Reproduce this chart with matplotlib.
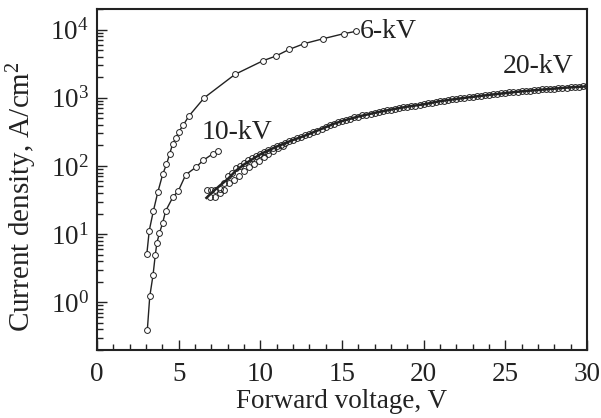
import matplotlib
matplotlib.use("Agg")
import matplotlib.pyplot as plt
from matplotlib.ticker import MultipleLocator, LogLocator, NullFormatter

plt.rcParams['font.family'] = ['Liberation Serif', 'DejaVu Serif']
plt.rcParams['mathtext.fontset'] = 'custom'
plt.rcParams['mathtext.rm'] = 'Liberation Serif'
plt.rcParams['mathtext.it'] = 'Liberation Serif:italic'

# 6-kV
v6 = [3.05, 3.2, 3.45, 3.72, 4.02, 4.25, 4.45, 4.63, 4.84, 5.0, 5.29, 5.63, 6.57,
      8.45, 10.18, 10.94, 11.76, 12.68, 13.82, 15.12, 15.86]
j6 = [5.1, 11.3, 21.8, 41, 75, 105, 150, 210, 260, 315, 400, 540, 1000,
      2200, 3500, 4070, 5100, 6200, 7300, 8700, 9400]

# 10-kV
v10 = [3.08, 3.23, 3.43, 3.57, 3.67, 3.82, 4.02, 4.2, 4.65, 4.98, 5.43, 6.06, 6.51, 7.08, 7.43]
j10 = [0.39, 1.22, 2.5, 5.0, 7.5, 10.3, 14.6, 21.8, 35, 43, 74, 96, 121, 150, 166]

# 20-kV measured points
v20 = [6.75, 7.0, 7.25, 7.5, 7.75, 8.0, 8.25, 8.5, 8.75, 9.0, 9.25, 9.5, 9.75,
       10.0, 10.25, 10.5, 10.75, 11.0, 11.25, 11.5, 11.75, 12.0, 12.25, 12.5, 12.75,
       13.0, 13.25, 13.5, 13.75, 14.0, 14.25, 14.5, 14.75, 15.0, 15.25, 15.5, 15.75,
       16.0, 16.25, 16.5, 16.75, 17.0, 17.25, 17.5, 17.75, 18.0, 18.25, 18.5, 18.75,
       19.0, 19.25, 19.5, 19.75, 20.0, 20.25, 20.5, 20.75, 21.0, 21.25, 21.5, 21.75,
       22.0, 22.25, 22.5, 22.75, 23.0, 23.25, 23.5, 23.75, 24.0, 24.25, 24.5, 24.75,
       25.0, 25.25, 25.5, 25.75, 26.0, 26.25, 26.5, 26.75, 27.0, 27.25, 27.5, 27.75,
       28.0, 28.25, 28.5, 28.75, 29.0, 29.25, 29.5, 29.75, 30.0]
j20 = [44, 45, 45, 46, 57, 70, 78, 92, 100, 110, 122, 130, 142,
       152, 162, 172, 183, 194, 206, 214, 229, 238, 254, 263, 282,
       292, 314, 328, 352, 368, 394, 412, 437, 452, 478, 490, 515,
       527, 551, 562, 586, 597, 621, 632, 655, 667, 691, 702, 725,
       737, 758, 767, 788, 797, 826, 842, 871, 886, 910, 921, 946,
       956, 981, 991, 1016, 1026, 1052, 1061, 1086, 1096, 1122, 1131, 1157,
       1166, 1193, 1201, 1227, 1236, 1260, 1266, 1290, 1296, 1320, 1326, 1350,
       1356, 1380, 1386, 1410, 1416, 1437, 1441, 1462, 1470]
# 20-kV additional scattered points (low-voltage region)
v20b = [6.9, 7.2, 7.5, 7.8, 8.1, 8.4, 8.7, 9.0, 9.3, 9.6, 9.9, 10.2, 10.5, 10.8, 11.1, 11.4]
j20b = [35, 35, 40, 45, 56, 62, 72, 84, 96, 108, 120, 135, 150, 166, 181, 198]
# 20-kV fitted line
v20f = [6.7, 7.0, 7.5, 8.0, 8.5, 9.0, 9.5, 10.0, 10.5, 11.0, 11.5, 12.0, 12.5, 13.0,
        13.5, 14.0, 14.5, 15.0, 16.0, 17.0, 18.0, 19.0, 20.0, 21.0, 22.0, 23.0,
        24.0, 25.0, 26.0, 27.0, 28.0, 29.0, 30.0]
j20f = [34, 40, 51, 64, 85, 105, 125, 148, 170, 192, 215, 240, 265, 295,
        330, 370, 415, 455, 530, 600, 670, 740, 800, 890, 960, 1030,
        1100, 1170, 1240, 1300, 1360, 1420, 1470]

fig = plt.figure(figsize=(6.01, 4.18), dpi=100)
ax = fig.add_axes([0.1614, 0.1627, 0.8153, 0.8158])

ink = '#222222'
mk = dict(marker='o', markersize=4.2, markeredgewidth=0.7, markeredgecolor=ink)
ax.plot(v6, j6, color=ink, lw=1.0, markerfacecolor='white', **mk)
ax.plot(v10, j10, color=ink, lw=1.0, markerfacecolor='white', **mk)
ax.plot(v20, j20, ls='none', markerfacecolor='none', **mk)
ax.plot(v20b, j20b, ls='none', markerfacecolor='none', **mk)
ax.plot(v20f, j20f, color=ink, lw=1.8)

ax.set_yscale('log')
ax.set_xlim(0, 30)
ax.set_ylim(0.2, 2e4)
ax.xaxis.set_major_locator(MultipleLocator(5))
ax.xaxis.set_minor_locator(MultipleLocator(1))
ax.yaxis.set_major_locator(LogLocator(base=10, numticks=10))
ax.yaxis.set_minor_locator(LogLocator(base=10, subs=range(2, 10), numticks=20))
ax.yaxis.set_minor_formatter(NullFormatter())

ax.tick_params(which='both', direction='in', top=False, right=False,
               labelsize=19.5, colors=ink, width=1.0)
ax.tick_params(which='major', length=7)
ax.tick_params(which='minor', length=4)
ax.tick_params(axis='x', which='major', pad=9)
ax.tick_params(axis='y', which='major', pad=6)
for s in ax.spines.values():
    s.set_linewidth(1.5)
    s.set_color(ink)

ax.set_xlabel('Forward voltage, V', fontsize=19.5, color=ink, labelpad=1)
ax.set_ylabel('Current density, A/cm$^2$', fontsize=21, color=ink)
ax.yaxis.set_label_coords(-0.119, 0.45)

ax.text(16.1, 7390, '6-kV', fontsize=20, va='baseline', ha='left', color=ink)
ax.text(6.43, 248, '10-kV', fontsize=20, va='baseline', ha='left', color=ink)
ax.text(29.15, 2280, '20-kV', fontsize=20, va='baseline', ha='right', color=ink)

fig.savefig('out.png', dpi=100)
